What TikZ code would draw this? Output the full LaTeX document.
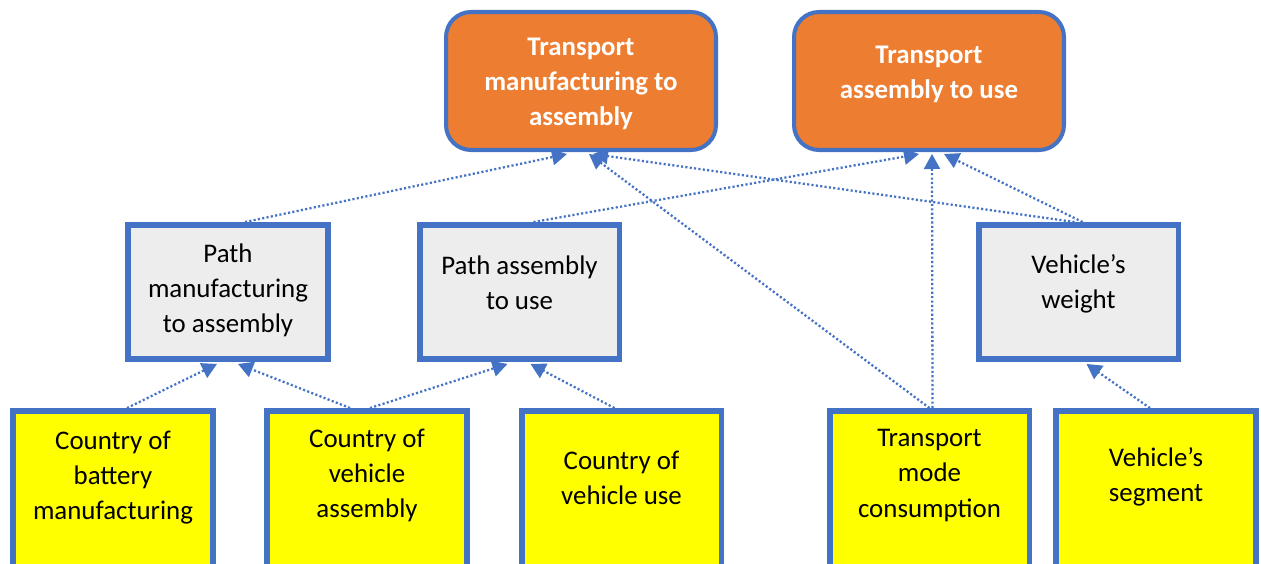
\documentclass[tikz,border=0pt]{standalone}
\usepackage{fontspec}
\setmainfont{Carlito}
\usetikzlibrary{arrows.meta,calc,backgrounds}

\definecolor{frameblue}{HTML}{4472C4}
\definecolor{topfill}{HTML}{ED7D31}
\definecolor{midfill}{HTML}{EDEDED}
\definecolor{leaffill}{HTML}{FFFF00}

\begin{document}
\begin{tikzpicture}[x=0.02cm,y=-0.02cm,
topbox/.style={rectangle, rounded corners=0.5cm, draw=frameblue, line width=2.3pt, fill=topfill, minimum width=5.4cm, minimum height=2.76cm},
midbox/.style={rectangle, draw=frameblue, line width=3.4pt, fill=midfill, minimum width=4cm, minimum height=2.68cm},
leafbox/.style={rectangle, draw=frameblue, line width=3.4pt, fill=leaffill, minimum width=4cm, minimum height=3.9cm},
boxtext/.style={align=center, font=\fontsize{15.3}{20}\selectfont},
toptext/.style={align=center, text=white, font=\fontsize{15.3}{20}\selectfont\bfseries},
link/.style={draw=frameblue, line width=1.3pt, dash pattern=on 1.2pt off 1.3pt, -{Triangle[length=0.3cm,width=0.32cm]}},
]
\useasboundingbox (0,0) rectangle (1261,564);
\clip (0,0) rectangle (1261,564);

%Nodes
\node[topbox]  (t1) at (581,81)    {};
\node[topbox]  (t2) at (929,81)    {};
\node[midbox]  (p1) at (228,292)   {};
\node[midbox]  (p2) at (519.5,292) {};
\node[midbox]  (vw) at (1078.5,292) {};
\node[leafbox] (c1) at (113,508.5)   {};
\node[leafbox] (c2) at (367,508.5)   {};
\node[leafbox] (c3) at (621.5,508.5) {};
\node[leafbox] (c4) at (929.5,508.5) {};
\node[leafbox] (c5) at (1156,508.5)  {};

%Texts
\node[toptext] at ($(t1)+(0,3)$)    {Transport\\manufacturing to\\assembly};
\node[toptext] at ($(t2)+(0,-7)$)   {Transport\\assembly to use};
\node[boxtext] at ($(p1)+(0,-2)$)   {Path\\manufacturing\\to assembly};
\node[boxtext] at ($(p2)+(0,-9)$)   {Path assembly\\to use};
\node[boxtext] at ($(vw)+(0,-8)$)   {Vehicle’s\\weight};
\node[boxtext] at ($(c1)+(0,-31)$)  {Country of\\battery\\manufacturing};
\node[boxtext] at ($(c2)+(0,-33)$)  {Country of\\vehicle\\assembly};
\node[boxtext] at ($(c3)+(0,-31)$)  {Country of\\vehicle use};
\node[boxtext] at ($(c4)+(0,-33)$)  {Transport\\mode\\consumption};
\node[boxtext] at ($(c5)+(0,-32)$)  {Vehicle’s\\segment};

%Lines
\begin{scope}[on background layer]
\draw[link] ($(c1.north)+(14,0)$)  -- ($(p1.south)+(-11,2)$);
\draw[link] ($(c2.north)+(-17,0)$) -- ($(p1.south)+(10,2)$);
\draw[link] ($(c2.north)+(3,0)$)   -- ($(p2.south)+(-12,2)$);
\draw[link] ($(c3.north)+(-7,0)$)  -- ($(p2.south)+(11,2)$);
\draw[link] ($(c4.north)+(3,0)$)   -- ($(t2.south)+(3,2)$);
\draw[link] (c4.north)             -- ($(t1.south)+(8,2)$);
\draw[link] ($(c5.north)+(-6,0)$)  -- ($(vw.south)+(8,2)$);

\draw[link] ($(p1.north)+(17,0)$)  -- ($(t1.south)+(-14,2)$);
\draw[link] ($(p2.north)+(14,0)$)  -- ($(t2.south)+(-10,2)$);
\draw[link] ($(vw.north)+(-4,0)$)  -- ($(t1.south)+(12,2)$);
\draw[link] ($(vw.north)+(4,0)$)   -- ($(t2.south)+(15,2)$);
\end{scope}

\end{tikzpicture}
\end{document}
